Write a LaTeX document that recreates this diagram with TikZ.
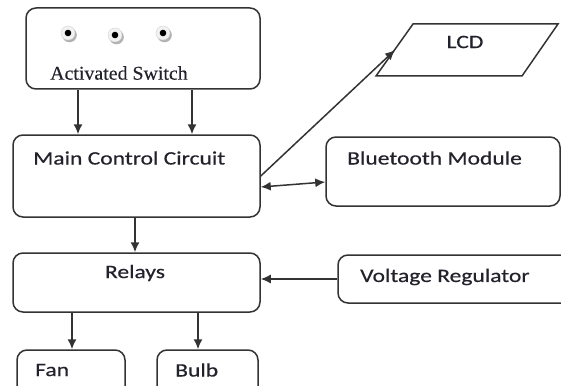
\documentclass[tikz,border=0pt]{standalone}
\usepackage{fontspec}
\usetikzlibrary{calc,arrows.meta}
\newfontfamily\calfont[FakeStretch=1.24,FakeBold=0.4]{Carlito}
\newfontfamily\serfont[FakeStretch=1.02,FakeBold=0.3]{Liberation Serif}
\definecolor{linec}{HTML}{333333}
\definecolor{textc}{HTML}{22222C}
\tikzset{
  box/.style={draw=linec, line width=1.5pt, rounded corners=10pt, inner sep=0pt, fill=white},
  lbl/.style={inner sep=0pt, text=textc, font=\calfont\fontsize{19}{22}\selectfont},
  arr/.style={draw=linec, line width=1.5pt, -{Latex[length=10pt,width=9pt]}},
  darr/.style={draw=linec, line width=1.5pt, {Latex[length=10pt,width=9pt]}-{Latex[length=10pt,width=9pt]}},
}
\begin{document}
\begin{tikzpicture}[x=1pt,y=-1pt]
\useasboundingbox (0,0) rectangle (561,385);
\clip (0,0) rectangle (561,385);
\fill[white] (0,0) rectangle (561,385);
% boxes
\node[box, minimum width=234pt, minimum height=81pt] (sw) at (143,48.5) {};
\node[box, minimum width=247pt, minimum height=82pt] (main) at (136.5,176) {};
\node[box, minimum width=234pt, minimum height=69pt] (bt) at (443,171.5) {};
\node[box, minimum width=247pt, minimum height=59pt] (rel) at (136.5,282.5) {};
\node[box, minimum width=240pt, minimum height=48pt] (vr) at (458,279) {};
\node[box, minimum width=108pt, minimum height=60pt] (fan) at (71,380) {};
\node[box, minimum width=101pt, minimum height=60pt] (bulb) at (207.5,380) {};
% LCD parallelogram
\draw[linec, line width=1.5pt, fill=white] (413,24) -- (558,24) -- (522,76) -- (376,76) -- cycle;
\coordinate (lcdin) at (395,50);
% switch buttons
\foreach \n/\x/\y in {d1/68/33, d2/115/35, d3/163/33}{
  \fill[gray!60] (\x+1.5,\y+2) circle (7.3pt);
  \node[circle, fill=gray!10, draw=gray!35, line width=0.4pt, minimum size=14pt, inner sep=0pt] (\n) at (\x,\y) {};
  \fill[black] (\n.center) circle (3.3pt);
}
% texts
\node[inner sep=0pt, anchor=west, text=textc, font=\serfont\fontsize{19.5}{22}\selectfont] (swt) at (50,73) {Activated Switch};
\node[lbl, anchor=west] (maint) at (33,158) {Main Control Circuit};
\node[lbl, anchor=west] (btt) at (347,158) {Bluetooth Module};
\node[lbl] (relt) at (135,273) {Relays};
\node[lbl, anchor=west] (vrt) at (360,277) {Voltage Regulator};
\node[lbl] (lcdt) at (465,42) {LCD};
\node[lbl, anchor=west] (fant) at (35,370) {Fan};
\node[lbl, anchor=west] (bulbt) at (175,370) {Bulb};
% connectors
\coordinate (a1) at (78,0);
\coordinate (a2) at (192,0);
\coordinate (a3) at (135,0);
\coordinate (a4) at (72,0);
\coordinate (a5) at (198,0);
\draw[arr] (sw.south -| a1) -- (main.north -| a1);
\draw[arr] (sw.south -| a2) -- (main.north -| a2);
\draw[arr] (main.south -| a3) -- (rel.north -| a3);
\draw[arr] (rel.south -| a4) -- (fan.north -| a4);
\draw[arr] (rel.south -| a5) -- (bulb.north -| a5);
\draw[arr] (main.east) -- (lcdin);
\draw[darr] ($(main.east)+(0,11)$) -- ($(bt.west)+(0,10.5)$);
\draw[arr] (vr.west) -- (vr.west -| rel.east);
\end{tikzpicture}
\end{document}
